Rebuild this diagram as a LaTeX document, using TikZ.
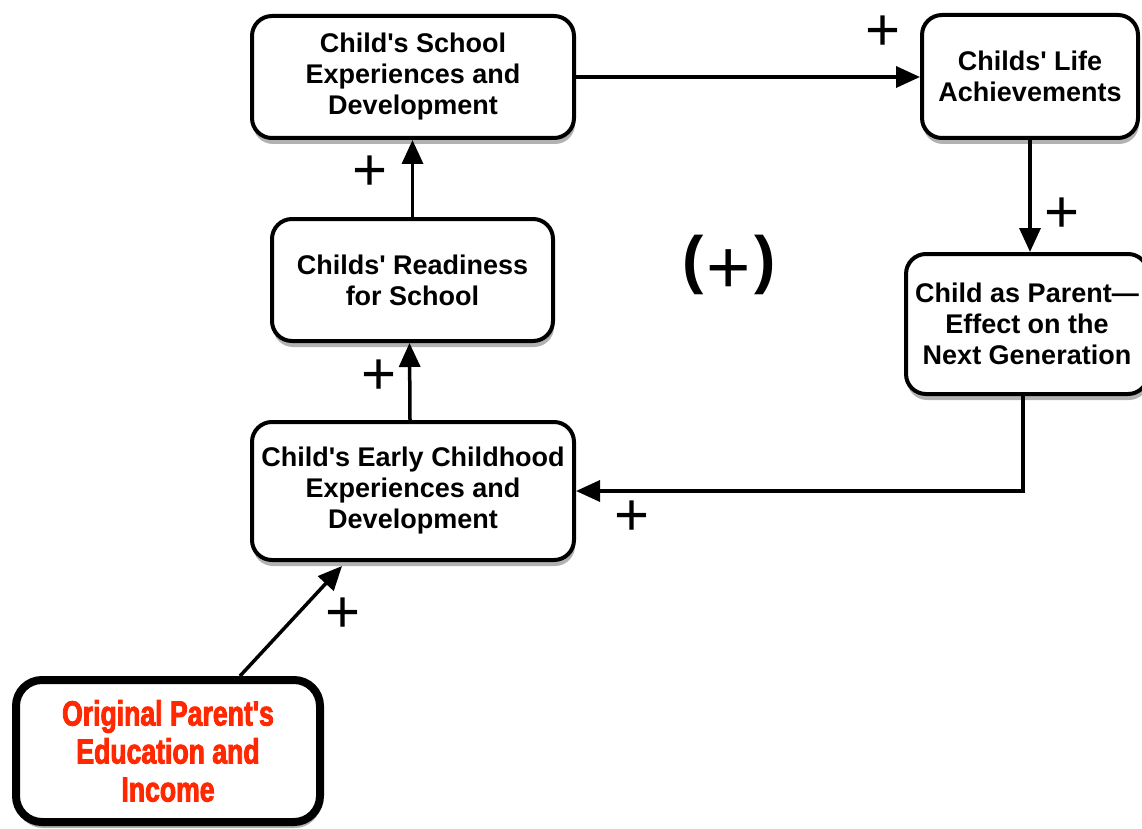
\documentclass[tikz,border=0pt]{standalone}
\usepackage{fontspec}
\setmainfont{Liberation Sans}
\newfontfamily\boxfont{Liberation Sans}
\newfontfamily\condfont[FakeStretch=0.76,FakeBold=2.5]{Liberation Sans}
\usetikzlibrary{arrows.meta,shadows,calc}
\definecolor{impred}{RGB}{255,40,0}
\tikzset{
  box/.style={draw=black, line width=4pt, rounded corners=20pt, fill=white,
    align=center, inner sep=0pt,
    font=\boxfont\fontsize{27}{31}\selectfont\bfseries,
    drop shadow={shadow xshift=1pt, shadow yshift=-6pt, opacity=0.3, fill=black}},
  origbox/.style={box, line width=8pt, rounded corners=26pt, text=impred,
    font=\condfont\fontsize{35}{38}\selectfont\bfseries},
  conn/.style={line width=3.5pt, -{Triangle[length=24pt,width=21pt]}},
  plus/.style={font=\fontsize{60}{60}\selectfont, inner sep=0pt},
}
\begin{document}
\begin{tikzpicture}[x=1pt,y=-1pt]
\useasboundingbox (0,0) rectangle (1142,829);
\node[box, minimum width=322, minimum height=122] (school) at (413,77)
  {Child's School\\Experiences and\\Development};
\node[box, minimum width=216, minimum height=123] (life) at (1030,76.5)
  {Childs' Life\\Achievements};
\node[box, minimum width=281, minimum height=122] (ready) at (412.5,280)
  {Childs' Readiness\\for School};
\node[box, minimum width=242, minimum height=140] (parent) at (1027,324)
  {Child as Parent—\\Effect on the\\Next Generation};
\node[box, minimum width=322, minimum height=138] (early) at (413,491)
  {Child's Early Childhood\\Experiences and\\Development};
\node[origbox, minimum width=304, minimum height=142] (orig) at (168,751)
  {Original Parent's\\Education and\\Income};

\draw[conn] (school.east) -- (life.west |- school.east);
\draw[conn] (life.south) -- (life.south |- parent.north);
\draw[conn] ([xshift=-4]parent.south) |- (early.east);
\draw[conn] ([xshift=-3]early.north) -- ([xshift=-3]ready.south);
\draw[conn] (ready.north) -- (ready.north |- school.south);
\draw[conn] ([xshift=72]orig.north) -- ([xshift=-71,yshift=-4]early.south);

\node[plus] (p1) at (883,33) {+};
\node[plus] (p2) at (1062,215) {+};
\node[plus] (p3) at (370,173) {+};
\node[plus] (p4) at (379,377) {+};
\node[plus] (p5) at (632,518) {+};
\node[plus] (p6) at (343,615) {+};
\node[inner sep=0pt] (loop) at (729,265)
  {\fontsize{64}{64}\selectfont\bfseries(\kern3pt{\mdseries\fontsize{76}{76}\selectfont\raisebox{-12pt}{+}}\kern3pt)};
\end{tikzpicture}
\end{document}
